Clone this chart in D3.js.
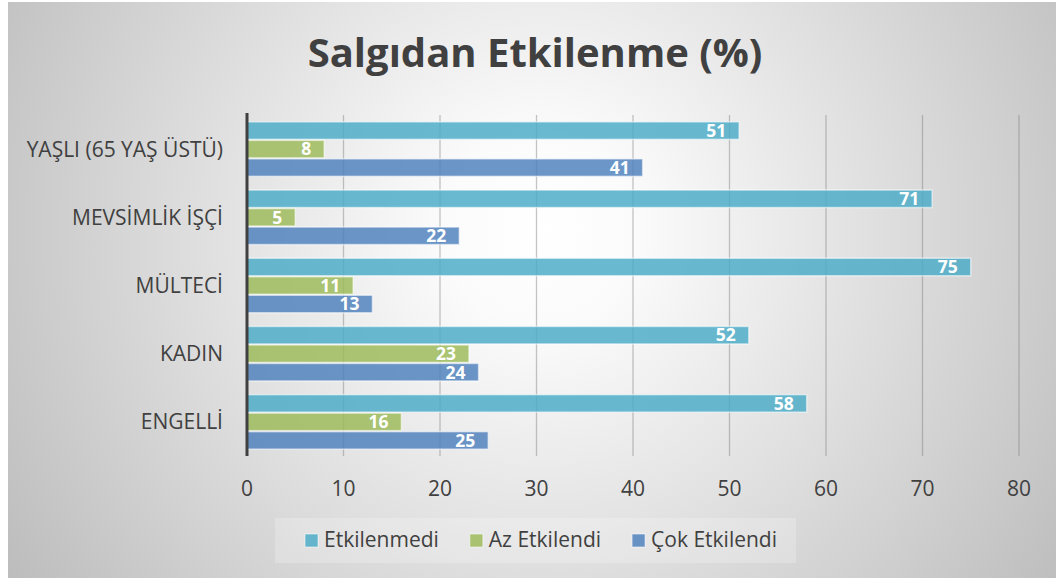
<!DOCTYPE html>
<html>
<head>
<meta charset="utf-8">
<script src="https://cdn.jsdelivr.net/npm/d3@7"></script>
<style>
    body { margin: 0; background: #ffffff; }
    svg text { font-family: "Open Sans", "Noto Sans", sans-serif; }
</style>
</head>
<body>
<div id="chart"></div>
<script>

// chart data
let categories = ["YAŞLI (65 YAŞ ÜSTÜ)", "MEVSİMLİK İŞÇİ", "MÜLTECİ", "KADIN", "ENGELLİ"];
let seriesNames = ["Etkilenmedi", "Az Etkilendi", "Çok Etkilendi"];
let etkilenmedi = [51, 71, 75, 52, 58];
let azEtkilendi = [8, 5, 11, 23, 16];
let cokEtkilendi = [41, 22, 13, 24, 25];
let xTicks = [0, 10, 20, 30, 40, 50, 60, 70, 80];

let seriesColors = ["#4BACC6", "#9BBB59", "#4F81BD"];
let textColor = "#404040";

let width = 1056, height = 578;

let svg = d3.select("#chart").append("svg")
    .attr("width", width)
    .attr("height", height);

// background: gray radial gradient
let defs = svg.append("defs");
let grad = defs.append("radialGradient")
    .attr("id", "bg")
    .attr("gradientUnits", "userSpaceOnUse")
    .attr("cx", 540).attr("cy", 230)
    .attr("r", 640);
grad.append("stop").attr("offset", "0").attr("stop-color", "#ffffff");
grad.append("stop").attr("offset", "0.15").attr("stop-color", "#fbfbfb");
grad.append("stop").attr("offset", "1").attr("stop-color", "#bcbcbc");

svg.append("rect")
    .attr("x", 8).attr("y", 2)
    .attr("width", width - 8).attr("height", height - 2)
    .attr("fill", "url(#bg)");

// title
svg.append("text")
    .attr("x", 535)
    .attr("y", 67)
    .attr("text-anchor", "middle")
    .attr("font-size", 40)
    .attr("font-weight", "bold")
    .attr("fill", textColor)
    .text("Salgıdan Etkilenme (%)");

// scales
let x = d3.scaleLinear()
    .domain([0, 80])
    .range([247, 1019]);

let y = d3.scaleBand()
    .domain(categories)
    .range([115, 456])
    .paddingInner(0.186)
    .paddingOuter(0.093);

let ySub = d3.scaleBand()
    .domain(seriesNames)
    .range([0, y.bandwidth()]);

let colour = d3.scaleOrdinal()
    .domain(seriesNames)
    .range(seriesColors);

// gridlines
svg.append("g")
    .selectAll("line")
    .data(xTicks.slice(1))
    .enter()
    .append("line")
    .attr("x1", d => x(d)).attr("x2", d => x(d))
    .attr("y1", 115).attr("y2", 456)
    .attr("stroke", "#7f7f7f")
    .attr("stroke-opacity", 0.45)
    .attr("stroke-width", 1.3);

// x tick labels
svg.append("g")
    .selectAll("text")
    .data(xTicks)
    .enter()
    .append("text")
    .attr("x", d => x(d))
    .attr("y", 496)
    .attr("text-anchor", "middle")
    .attr("font-size", 21)
    .attr("fill", textColor)
    .text(d => d);

// rows of the table for bars
let rows = [];
categories.forEach((c, i) => {
    rows.push({cat: c, series: seriesNames[0], value: etkilenmedi[i]});
    rows.push({cat: c, series: seriesNames[1], value: azEtkilendi[i]});
    rows.push({cat: c, series: seriesNames[2], value: cokEtkilendi[i]});
});

// bars
svg.append("g")
    .selectAll("rect")
    .data(rows)
    .enter()
    .append("rect")
    .attr("x", x(0))
    .attr("y", d => y(d.cat) + ySub(d.series) + 0.5)
    .attr("width", d => x(d.value) - x(0))
    .attr("height", ySub.bandwidth() - 1)
    .attr("fill", d => colour(d.series))
    .attr("fill-opacity", 0.83)
    .attr("stroke", "#ffffff")
    .attr("stroke-opacity", 0.55)
    .attr("stroke-width", 1.5);

// value labels inside end
svg.append("g")
    .selectAll("text")
    .data(rows)
    .enter()
    .append("text")
    .attr("x", d => x(d.value) - 13)
    .attr("y", d => y(d.cat) + ySub(d.series) + ySub.bandwidth() / 2 + 6.3)
    .attr("text-anchor", "end")
    .attr("font-size", 17.5)
    .attr("font-weight", "bold")
    .attr("fill", "#ffffff")
    .text(d => d.value);

// y axis line
svg.append("line")
    .attr("x1", x(0)).attr("x2", x(0))
    .attr("y1", 113).attr("y2", 456)
    .attr("stroke", textColor)
    .attr("stroke-width", 3);

// category labels
svg.append("g")
    .selectAll("text")
    .data(categories)
    .enter()
    .append("text")
    .attr("x", 223)
    .attr("y", d => y(d) + y.bandwidth() / 2 + 7.5)
    .attr("text-anchor", "end")
    .attr("font-size", 21)
    .attr("fill", textColor)
    .text(d => d);

// legend
svg.append("rect")
    .attr("x", 275).attr("y", 518)
    .attr("width", 521).attr("height", 45)
    .attr("fill", "#ffffff")
    .attr("fill-opacity", 0.22);

let legend = svg.append("g");
let lx = 305;
seriesNames.forEach((s) => {
    legend.append("rect")
        .attr("x", lx).attr("y", 534)
        .attr("width", 13).attr("height", 13)
        .attr("fill", colour(s))
        .attr("fill-opacity", 0.83)
        .attr("stroke", "#ffffff")
        .attr("stroke-opacity", 0.55);
    let t = legend.append("text")
        .attr("x", lx + 19)
        .attr("y", 547)
        .attr("font-size", 21)
        .attr("fill", textColor)
        .text(s);
    lx = lx + 19 + t.node().getComputedTextLength() + 31;
});

</script>
</body>
</html>
